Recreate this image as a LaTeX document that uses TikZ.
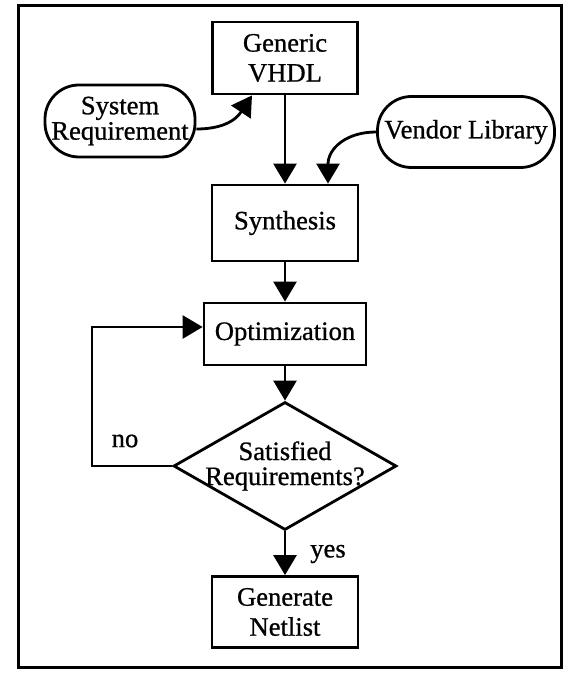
\documentclass[tikz,border=0pt]{standalone}
\usepackage{fontspec}
\setmainfont{Liberation Serif}[FakeBold=0.8]
\usetikzlibrary{arrows.meta,shapes.geometric,calc}

\begin{document}
\begin{tikzpicture}[x=0.5pt,y=-0.5pt,
  every node/.style={font=\fontsize{13.3}{15}\selectfont},
  block/.style={draw,line width=1.4pt,align=center,inner sep=0pt},
  source/.style={draw,line width=1.4pt,align=center,inner sep=0pt,rounded corners=17pt},
  decision/.style={draw,diamond,line width=1.4pt,inner sep=0pt,minimum width=111.5pt,minimum height=64pt},
  flow/.style={line width=1.4pt,-{Triangle[length=10pt,width=11.5pt]}}]
\useasboundingbox (0,0) rectangle (569,673);
\draw[line width=1.5pt] (18,6) rectangle (561,667);

\node[block,minimum width=72.5pt,minimum height=36pt] (gen) at (285,58) {Generic\\VHDL};
\node[source,minimum width=75pt,minimum height=36pt,font=\fontsize{13.3}{11.5}\selectfont] (sysreq) at (120,121) {System\\Requirement};
\node[source,minimum width=88.5pt,minimum height=35.5pt] (vendor) at (466,132) {Vendor Library};
\node[block,minimum width=73pt,minimum height=38pt] (synth) at (285,223) {Synthesis};
\node[block,minimum width=81pt,minimum height=31pt] (opt) at (285,334) {Optimization};
\node[decision] (dec) at (285,466) {};
\node[font=\fontsize{13.3}{12.5}\selectfont,align=center] (dectext) at (dec.center) {Satisfied\\Requirements?};
\node[block,minimum width=73pt,minimum height=35.5pt] (gennet) at (285,612) {Generate\\Netlist};
\node (no) at (125,441) {no};
\node (yes) at (328,554) {yes};
\coordinate (back) at (92,0);

\draw[flow] (gen) -- (synth);
\draw[flow] ($(sysreq.east)+(0,8)$) .. controls +(35,0) and +(-12,18) .. ($(gen.south)+(-33,0)$);
\draw[flow] (vendor.west) .. controls +(-30,0) and +(0,-35) .. ($(synth.north)+(43,0)$);
\draw[flow] (synth) -- (opt);
\draw[flow] (opt) -- (dec);
\draw[flow] (dec.west) -- (dec.west -| back) |- ($(opt.west)+(0,-7)$);
\draw[flow] (dec.south) -- (gennet);
\end{tikzpicture}
\end{document}
